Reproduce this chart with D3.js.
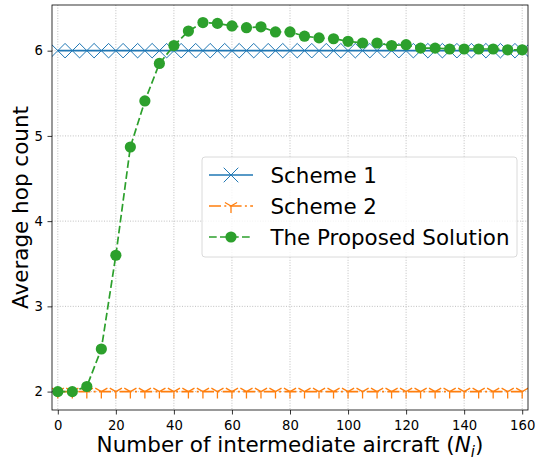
<!DOCTYPE html>
<html>
<head>
<meta charset="utf-8">
<script src="https://cdn.jsdelivr.net/npm/d3@7"></script>
<style>
  body { margin: 0; background: #fff; }
  svg { display: block; font-family: "DejaVu Sans", sans-serif; }
</style>
</head>
<body>
<svg id="chart" width="537" height="462"></svg>
<script>
// Number of intermediate aircraft
const aircraft = [0,5,10,15,20,25,30,35,40,45,50,55,60,65,70,75,80,85,90,95,100,105,110,115,120,125,130,135,140,145,150,155,160];
// Average hop count per scheme
const scheme1 = aircraft.map(() => 6);
const scheme2 = aircraft.map(() => 2);
const proposed = [2.0,2.0,2.06,2.5,3.6,4.87,5.41,5.85,6.06,6.23,6.33,6.32,6.29,6.27,6.28,6.22,6.22,6.17,6.15,6.14,6.11,6.09,6.09,6.06,6.07,6.03,6.03,6.02,6.02,6.02,6.02,6.01,6.01];
const xTicks = [0,20,40,60,80,100,120,140,160];
const yTicks = [2,3,4,5,6];
const seriesNames = ["Scheme 1", "Scheme 2", "The Proposed Solution"];

const svg = d3.select("#chart");
const m = { left: 52, right: 528, top: 5, bottom: 410 };

const x = d3.scaleLinear().domain([-2, 162]).range([m.left, m.right]);
const y = d3.scaleLinear().domain([1.784, 6.536]).range([m.bottom, m.top]);

const DASHED = "7.7,3.3";
const DASHDOT = "12,3.3,2,3.3";

// grid
const grid = svg.append("g").attr("stroke", "#b0b0b0").attr("stroke-width", 0.8)
  .attr("stroke-dasharray", "1,1.6");
xTicks.forEach(t => grid.append("line").attr("x1", x(t)).attr("x2", x(t)).attr("y1", m.top).attr("y2", m.bottom));
yTicks.forEach(t => grid.append("line").attr("x1", m.left).attr("x2", m.right).attr("y1", y(t)).attr("y2", y(t)));

// axes
const xAxis = svg.append("g").attr("transform", `translate(0,${m.bottom})`)
  .call(d3.axisBottom(x).tickValues(xTicks).tickSize(4.5).tickPadding(6.5));
const yAxis = svg.append("g").attr("transform", `translate(${m.left},0)`)
  .call(d3.axisLeft(y).tickValues(yTicks).tickFormat(d3.format("d")).tickSize(4.5).tickPadding(4.5));
[xAxis, yAxis].forEach(a => {
  a.select(".domain").remove();
  a.selectAll("text").attr("font-size", 13.2).attr("fill", "#000").attr("font-family", "DejaVu Sans");
  a.selectAll("line").attr("stroke", "#000").attr("stroke-width", 0.8);
});

const clip = svg.append("clipPath").attr("id", "clip").append("rect")
  .attr("x", m.left).attr("y", m.top).attr("width", m.right - m.left).attr("height", m.bottom - m.top);
const plot = svg.append("g").attr("clip-path", "url(#clip)");

const line = d3.line().x((d, i) => x(aircraft[i])).y(d => y(d));

// marker shapes
function xMarker(g, cx, cy, s, color) {
  g.append("path").attr("d", `M${cx - s},${cy - s}L${cx + s},${cy + s}M${cx - s},${cy + s}L${cx + s},${cy - s}`)
    .attr("stroke", color).attr("stroke-width", 1).attr("fill", "none");
}
function triDown(g, cx, cy, s, color) {
  const a = s * 0.866, b = s * 0.5;
  g.append("path").attr("d", `M${cx},${cy}L${cx},${cy + s}M${cx},${cy}L${cx - a},${cy - b}M${cx},${cy}L${cx + a},${cy - b}`)
    .attr("stroke", color).attr("stroke-width", 1.3).attr("fill", "none");
}

const c1 = "#1f77b4", c2 = "#ff7f0e", c3 = "#2ca02c";

// Scheme 1
plot.append("path").datum(scheme1).attr("d", line).attr("fill", "none").attr("stroke", c1).attr("stroke-width", 1.7);
const m1 = plot.append("g");
scheme1.forEach((v, i) => xMarker(m1, x(aircraft[i]), y(v), 7.3, c1));

// Scheme 2
plot.append("path").datum(scheme2).attr("d", line).attr("fill", "none").attr("stroke", c2).attr("stroke-width", 1.7)
  .attr("stroke-dasharray", DASHDOT);
const m2 = plot.append("g");
scheme2.forEach((v, i) => triDown(m2, x(aircraft[i]), y(v), 7, c2));

// Proposed solution
plot.append("path").datum(proposed).attr("d", line).attr("fill", "none").attr("stroke", c3).attr("stroke-width", 1.7)
  .attr("stroke-dasharray", DASHED);
plot.append("g").selectAll("circle").data(proposed).join("circle")
  .attr("cx", (d, i) => x(aircraft[i])).attr("cy", d => y(d)).attr("r", 5.6).attr("fill", c3);

// frame
svg.append("rect").attr("x", m.left).attr("y", m.top).attr("width", m.right - m.left).attr("height", m.bottom - m.top)
  .attr("fill", "none").attr("stroke", "#000").attr("stroke-width", 0.8);

// axis labels
svg.append("text").attr("x", (m.left + m.right) / 2).attr("y", 452).attr("text-anchor", "middle")
  .attr("font-size", 21.5).attr("fill", "#000")
  .html('Number of intermediate aircraft (<tspan font-style="italic">N</tspan><tspan font-style="italic" font-size="15" dy="4.5">i</tspan><tspan dy="-4.5">)</tspan>');
svg.append("text").attr("transform", `translate(27.5,${(m.top + m.bottom) / 2}) rotate(-90)`).attr("text-anchor", "middle")
  .attr("font-size", 21.5).attr("fill", "#000").text("Average hop count");

// legend
const lg = svg.append("g");
lg.append("rect").attr("x", 202).attr("y", 157).attr("width", 315).attr("height", 100).attr("rx", 3)
  .attr("fill", "#fff").attr("fill-opacity", 0.8).attr("stroke", "#d0d0d0").attr("stroke-width", 0.8);
const rowsY = [175, 206, 237];
const hx1 = 209, hx2 = 253, hxc = (hx1 + hx2) / 2;
lg.append("line").attr("x1", hx1).attr("x2", hx2).attr("y1", rowsY[0]).attr("y2", rowsY[0]).attr("stroke", c1).attr("stroke-width", 1.7);
xMarker(lg, hxc, rowsY[0], 7.3, c1);
lg.append("line").attr("x1", hx1).attr("x2", hx2).attr("y1", rowsY[1]).attr("y2", rowsY[1]).attr("stroke", c2).attr("stroke-width", 1.7)
  .attr("stroke-dasharray", DASHDOT);
triDown(lg, hxc, rowsY[1], 7, c2);
lg.append("line").attr("x1", hx1).attr("x2", hx2).attr("y1", rowsY[2]).attr("y2", rowsY[2]).attr("stroke", c3).attr("stroke-width", 1.7)
  .attr("stroke-dasharray", DASHED);
lg.append("circle").attr("cx", hxc).attr("cy", rowsY[2]).attr("r", 5.6).attr("fill", c3);
seriesNames.forEach((n, i) => lg.append("text").attr("x", 270.5).attr("y", rowsY[i] + 7.5)
  .attr("font-size", 21.4).attr("fill", "#000").text(n));
</script>
</body>
</html>
